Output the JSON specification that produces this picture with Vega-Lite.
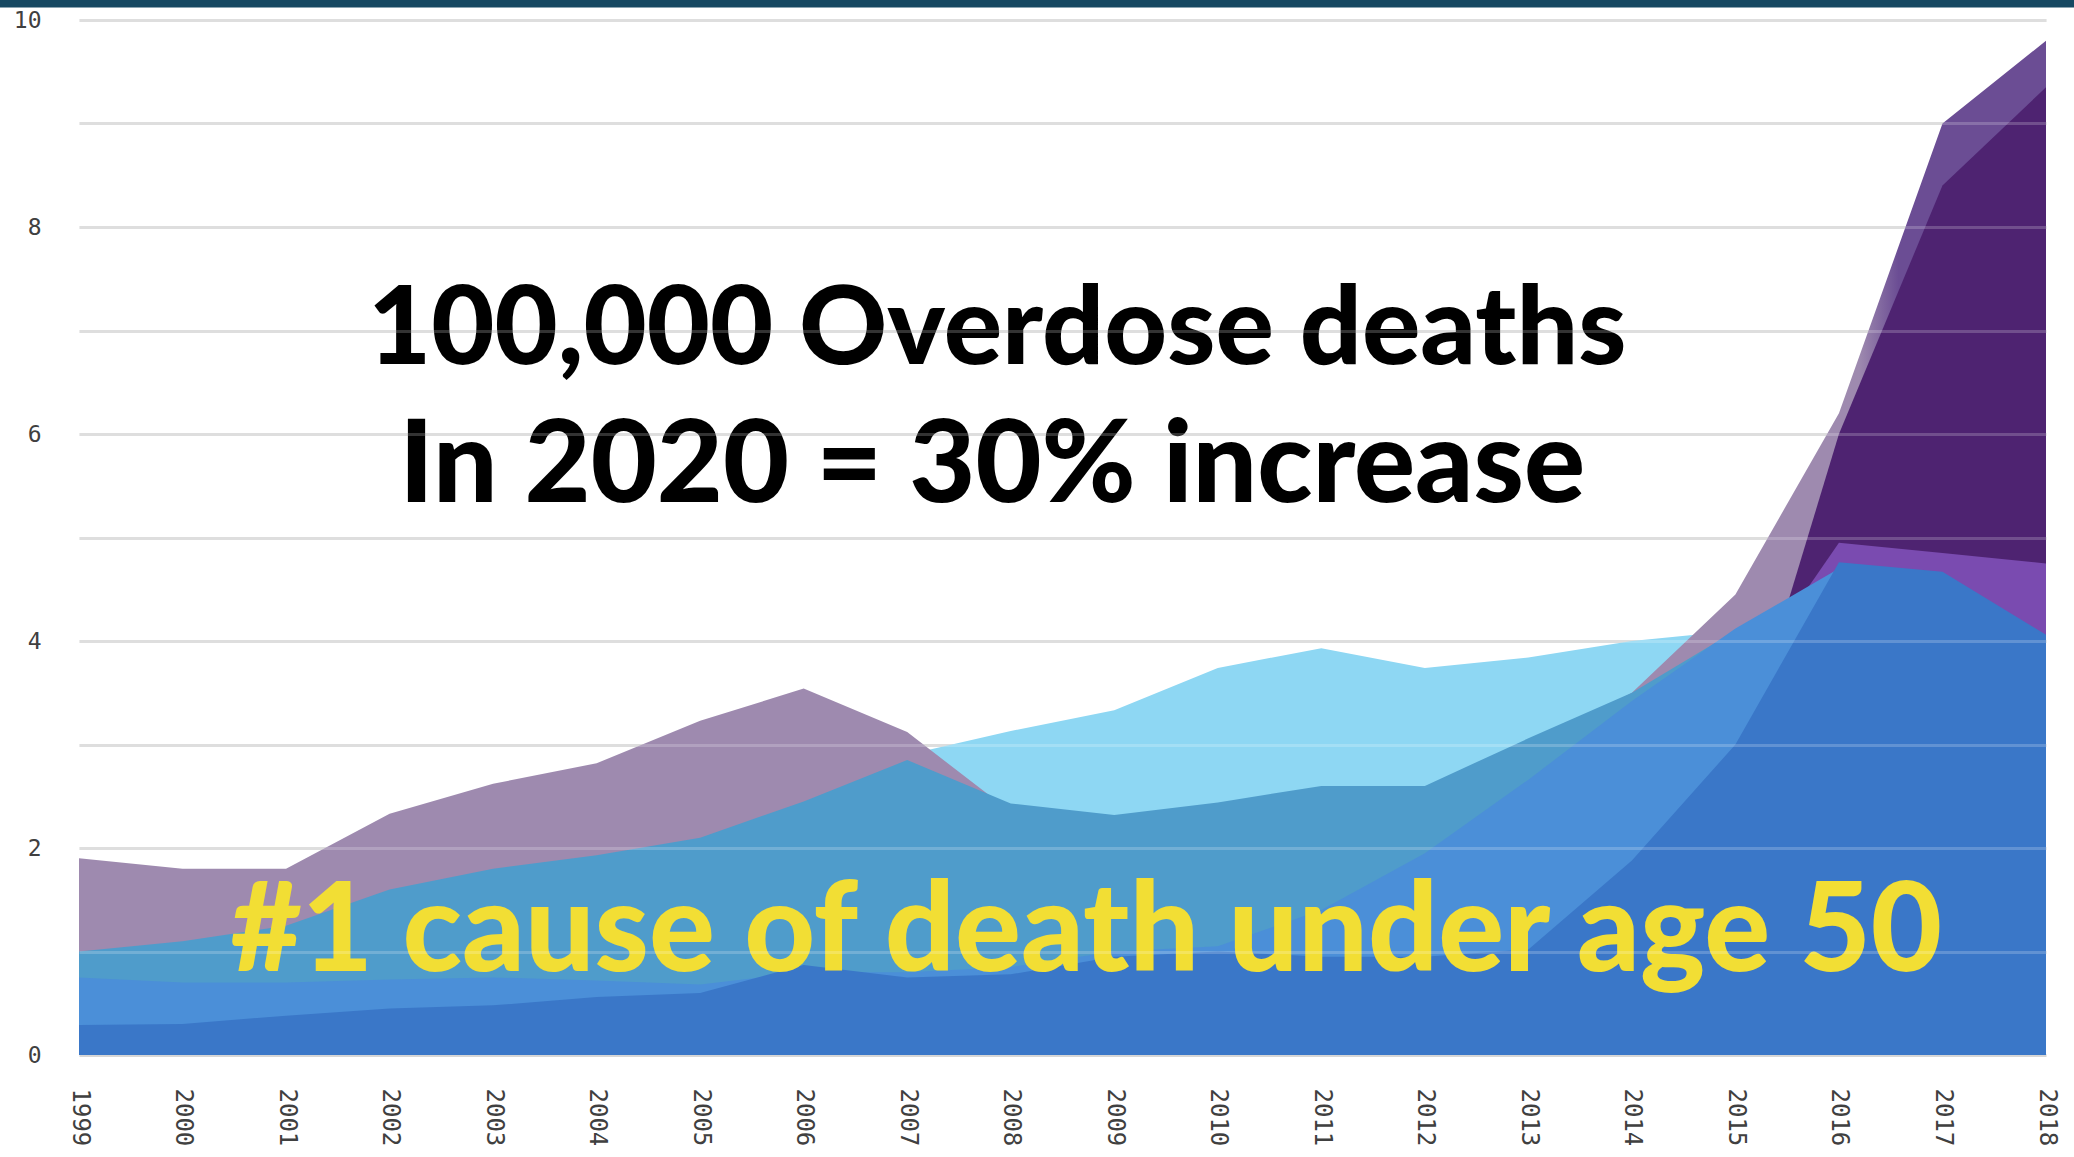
{
  "$schema": "https://vega.github.io/schema/vega-lite/v6.json",
  "autosize": {"type": "none"},
  "padding": {"left": 79, "top": 20, "right": 28, "bottom": 102},
  "width": 1967,
  "height": 1035,
  "background": "white",
  "config": {"view": {"stroke": null}},
  "datasets": {
    "rates": [
      {"s": "L", "year": 1999, "v": 0.9}, {"s": "L", "year": 2000, "v": 1.0}, {"s": "L", "year": 2001, "v": 1.1}, {"s": "L", "year": 2002, "v": 1.4}, {"s": "L", "year": 2003, "v": 1.6}, {"s": "L", "year": 2004, "v": 1.8}, {"s": "L", "year": 2005, "v": 2.0}, {"s": "L", "year": 2006, "v": 2.3}, {"s": "L", "year": 2007, "v": 2.9}, {"s": "L", "year": 2008, "v": 3.13}, {"s": "L", "year": 2009, "v": 3.33}, {"s": "L", "year": 2010, "v": 3.74}, {"s": "L", "year": 2011, "v": 3.93}, {"s": "L", "year": 2012, "v": 3.74}, {"s": "L", "year": 2013, "v": 3.84}, {"s": "L", "year": 2014, "v": 4.0}, {"s": "L", "year": 2015, "v": 4.1}, {"s": "L", "year": 2016, "v": 4.4}, {"s": "L", "year": 2017, "v": 4.4}, {"s": "L", "year": 2018, "v": 3.8},
      {"s": "P", "year": 1999, "v": 1.9}, {"s": "P", "year": 2000, "v": 1.8}, {"s": "P", "year": 2001, "v": 1.8}, {"s": "P", "year": 2002, "v": 2.33}, {"s": "P", "year": 2003, "v": 2.62}, {"s": "P", "year": 2004, "v": 2.82}, {"s": "P", "year": 2005, "v": 3.23}, {"s": "P", "year": 2006, "v": 3.54}, {"s": "P", "year": 2007, "v": 3.12}, {"s": "P", "year": 2008, "v": 2.35}, {"s": "P", "year": 2009, "v": 2.25}, {"s": "P", "year": 2010, "v": 2.35}, {"s": "P", "year": 2011, "v": 2.5}, {"s": "P", "year": 2012, "v": 2.5}, {"s": "P", "year": 2013, "v": 2.95}, {"s": "P", "year": 2014, "v": 3.5}, {"s": "P", "year": 2015, "v": 4.45}, {"s": "P", "year": 2016, "v": 6.2}, {"s": "P", "year": 2017, "v": 9.0}, {"s": "P", "year": 2018, "v": 9.8},
      {"s": "D", "year": 2015, "v": 2.7}, {"s": "D", "year": 2016, "v": 6.0}, {"s": "D", "year": 2017, "v": 8.4}, {"s": "D", "year": 2018, "v": 9.35},
      {"s": "V", "year": 2015, "v": 3.5}, {"s": "V", "year": 2016, "v": 4.95}, {"s": "V", "year": 2017, "v": 4.85}, {"s": "V", "year": 2018, "v": 4.75},
      {"s": "T", "year": 1999, "v": 1.0}, {"s": "T", "year": 2000, "v": 1.1}, {"s": "T", "year": 2001, "v": 1.25}, {"s": "T", "year": 2002, "v": 1.6}, {"s": "T", "year": 2003, "v": 1.8}, {"s": "T", "year": 2004, "v": 1.93}, {"s": "T", "year": 2005, "v": 2.1}, {"s": "T", "year": 2006, "v": 2.45}, {"s": "T", "year": 2007, "v": 2.85}, {"s": "T", "year": 2008, "v": 2.43}, {"s": "T", "year": 2009, "v": 2.32}, {"s": "T", "year": 2010, "v": 2.44}, {"s": "T", "year": 2011, "v": 2.6}, {"s": "T", "year": 2012, "v": 2.6}, {"s": "T", "year": 2013, "v": 3.06}, {"s": "T", "year": 2014, "v": 3.5}, {"s": "T", "year": 2015, "v": 4.1}, {"s": "T", "year": 2016, "v": 4.0}, {"s": "T", "year": 2017, "v": 4.0}, {"s": "T", "year": 2018, "v": 3.6},
      {"s": "B2", "year": 1999, "v": 0.75}, {"s": "B2", "year": 2000, "v": 0.7}, {"s": "B2", "year": 2001, "v": 0.7}, {"s": "B2", "year": 2002, "v": 0.73}, {"s": "B2", "year": 2003, "v": 0.75}, {"s": "B2", "year": 2004, "v": 0.72}, {"s": "B2", "year": 2005, "v": 0.68}, {"s": "B2", "year": 2006, "v": 0.8}, {"s": "B2", "year": 2007, "v": 0.8}, {"s": "B2", "year": 2008, "v": 0.85}, {"s": "B2", "year": 2009, "v": 1.0}, {"s": "B2", "year": 2010, "v": 1.05}, {"s": "B2", "year": 2011, "v": 1.4}, {"s": "B2", "year": 2012, "v": 1.95}, {"s": "B2", "year": 2013, "v": 2.66}, {"s": "B2", "year": 2014, "v": 3.42}, {"s": "B2", "year": 2015, "v": 4.12}, {"s": "B2", "year": 2016, "v": 4.7}, {"s": "B2", "year": 2017, "v": 4.6}, {"s": "B2", "year": 2018, "v": 4.0},
      {"s": "B1", "year": 1999, "v": 0.29}, {"s": "B1", "year": 2000, "v": 0.3}, {"s": "B1", "year": 2001, "v": 0.38}, {"s": "B1", "year": 2002, "v": 0.45}, {"s": "B1", "year": 2003, "v": 0.48}, {"s": "B1", "year": 2004, "v": 0.56}, {"s": "B1", "year": 2005, "v": 0.6}, {"s": "B1", "year": 2006, "v": 0.87}, {"s": "B1", "year": 2007, "v": 0.75}, {"s": "B1", "year": 2008, "v": 0.78}, {"s": "B1", "year": 2009, "v": 0.95}, {"s": "B1", "year": 2010, "v": 1.0}, {"s": "B1", "year": 2011, "v": 0.95}, {"s": "B1", "year": 2012, "v": 0.95}, {"s": "B1", "year": 2013, "v": 1.02}, {"s": "B1", "year": 2014, "v": 1.88}, {"s": "B1", "year": 2015, "v": 3.0}, {"s": "B1", "year": 2016, "v": 4.76}, {"s": "B1", "year": 2017, "v": 4.67}, {"s": "B1", "year": 2018, "v": 4.06}
    ],
    "notes": [
      {"k": "line1", "label": "100,000 Overdose deaths", "year": 2007.87, "v": 6.68},
      {"k": "line2", "label": "In 2020 = 30% increase", "year": 2007.82, "v": 5.34},
      {"k": "line3", "label": "#1 cause of death under age 50", "year": 2008.73, "v": 0.81}
    ]
  },
  "resolve": {"axis": {"x": "independent", "y": "independent"}},
  "layer": [
    {
      "data": {"name": "rates"},
      "transform": [{"filter": "datum.s === 'L'"}],
      "mark": {"type": "area", "color": "#8ed7f3", "opacity": 1},
      "encoding": {
        "x": {"field": "year", "type": "quantitative", "scale": {"domain": [1999, 2018], "nice": false, "zero": false},
          "axis": {"orient": "bottom", "values": [1999, 2000, 2001, 2002, 2003, 2004, 2005, 2006, 2007, 2008, 2009, 2010, 2011, 2012, 2013, 2014, 2015, 2016, 2017, 2018],
            "format": "d", "labelAngle": 90, "labelAlign": "left", "labelBaseline": "middle", "labelFlush": false, "labelOverlap": false,
            "grid": false, "ticks": false, "domain": false, "labelPadding": 33, "labelFont": "DejaVu Sans Mono", "labelFontSize": 24, "labelColor": "#404040", "title": null}},
        "y": {"field": "v", "type": "quantitative", "scale": {"domain": [0, 10], "nice": false},
          "axis": {"orient": "left", "values": [0, 1, 2, 3, 4, 5, 6, 7, 8, 9, 10], "labelExpr": "datum.value % 2 === 0 ? datum.label : ''",
            "grid": true, "gridColor": "#d6d6d6", "gridWidth": 3, "ticks": false, "domain": false, "labelPadding": 38, "labelFlush": false,
            "labelFont": "DejaVu Sans Mono", "labelFontSize": 23, "labelColor": "#404040", "title": null}}
      }
    },
    {
      "data": {"name": "rates"},
      "transform": [{"filter": "datum.s === 'P'"}],
      "mark": {"type": "area", "color": {"gradient": "linear", "x1": 0, "x2": 1, "y1": 0, "y2": 0,
        "stops": [{"offset": 0, "color": "#9e8aaf"}, {"offset": 0.905, "color": "#9e8aaf"}, {"offset": 0.925, "color": "#6b4d94"}, {"offset": 1, "color": "#6b4d94"}]}},
      "encoding": {
        "x": {"field": "year", "type": "quantitative", "axis": null},
        "y": {"field": "v", "type": "quantitative", "axis": null}
      }
    },
    {
      "data": {"name": "rates"},
      "transform": [{"filter": "datum.s === 'D'"}],
      "mark": {"type": "area", "color": "#4e2371"},
      "encoding": {
        "x": {"field": "year", "type": "quantitative", "axis": null},
        "y": {"field": "v", "type": "quantitative", "axis": null}
      }
    },
    {
      "data": {"name": "rates"},
      "transform": [{"filter": "datum.s === 'V'"}],
      "mark": {"type": "area", "color": "#7a4bb0"},
      "encoding": {
        "x": {"field": "year", "type": "quantitative", "axis": null},
        "y": {"field": "v", "type": "quantitative", "axis": null}
      }
    },
    {
      "data": {"name": "rates"},
      "transform": [{"filter": "datum.s === 'T'"}],
      "mark": {"type": "area", "color": "#4f9ccb"},
      "encoding": {
        "x": {"field": "year", "type": "quantitative", "axis": null},
        "y": {"field": "v", "type": "quantitative", "axis": null}
      }
    },
    {
      "data": {"name": "rates"},
      "transform": [{"filter": "datum.s === 'B2'"}],
      "mark": {"type": "area", "color": "#4b8fd8"},
      "encoding": {
        "x": {"field": "year", "type": "quantitative", "axis": null},
        "y": {"field": "v", "type": "quantitative", "axis": null}
      }
    },
    {
      "data": {"name": "rates"},
      "transform": [{"filter": "datum.s === 'B1'"}],
      "mark": {"type": "area", "color": "#3a77c8"},
      "encoding": {
        "x": {"field": "year", "type": "quantitative", "axis": null},
        "y": {"field": "v", "type": "quantitative",
          "axis": {"orient": "left", "values": [1, 2, 3, 4, 5, 6, 7, 8, 9, 10], "grid": true, "gridColor": "white", "gridOpacity": 0.2, "gridWidth": 3,
            "labels": false, "ticks": false, "domain": false, "zindex": 1, "title": null}}
      }
    },
    {
      "data": {"name": "notes"},
      "transform": [{"filter": "datum.k === 'line1'"}],
      "mark": {"type": "text", "font": "Lato", "fontWeight": 900, "fontSize": 109, "color": "#000000", "align": "center", "baseline": "alphabetic"},
      "encoding": {
        "x": {"field": "year", "type": "quantitative", "axis": null},
        "y": {"field": "v", "type": "quantitative", "axis": null},
        "text": {"field": "label"}
      }
    },
    {
      "data": {"name": "notes"},
      "transform": [{"filter": "datum.k === 'line2'"}],
      "mark": {"type": "text", "font": "Lato", "fontWeight": 900, "fontSize": 114, "color": "#000000", "align": "center", "baseline": "alphabetic"},
      "encoding": {
        "x": {"field": "year", "type": "quantitative", "axis": null},
        "y": {"field": "v", "type": "quantitative", "axis": null},
        "text": {"field": "label"}
      }
    },
    {
      "data": {"name": "notes"},
      "transform": [{"filter": "datum.k === 'line3'"}],
      "mark": {"type": "text", "font": "Lato", "fontWeight": 900, "fontSize": 123, "color": "#f2de34", "align": "center", "baseline": "alphabetic"},
      "encoding": {
        "x": {"field": "year", "type": "quantitative", "axis": null},
        "y": {"field": "v", "type": "quantitative", "axis": null},
        "text": {"field": "label"}
      }
    },
    {
      "data": {"values": [{}]},
      "mark": {"type": "rule", "color": "#164862", "strokeWidth": 8, "clip": false},
      "encoding": {
        "x": {"datum": 1998.23, "type": "quantitative", "axis": null},
        "x2": {"datum": 2018.3},
        "y": {"datum": 10.16, "type": "quantitative", "axis": null}
      }
    }
  ]
}
